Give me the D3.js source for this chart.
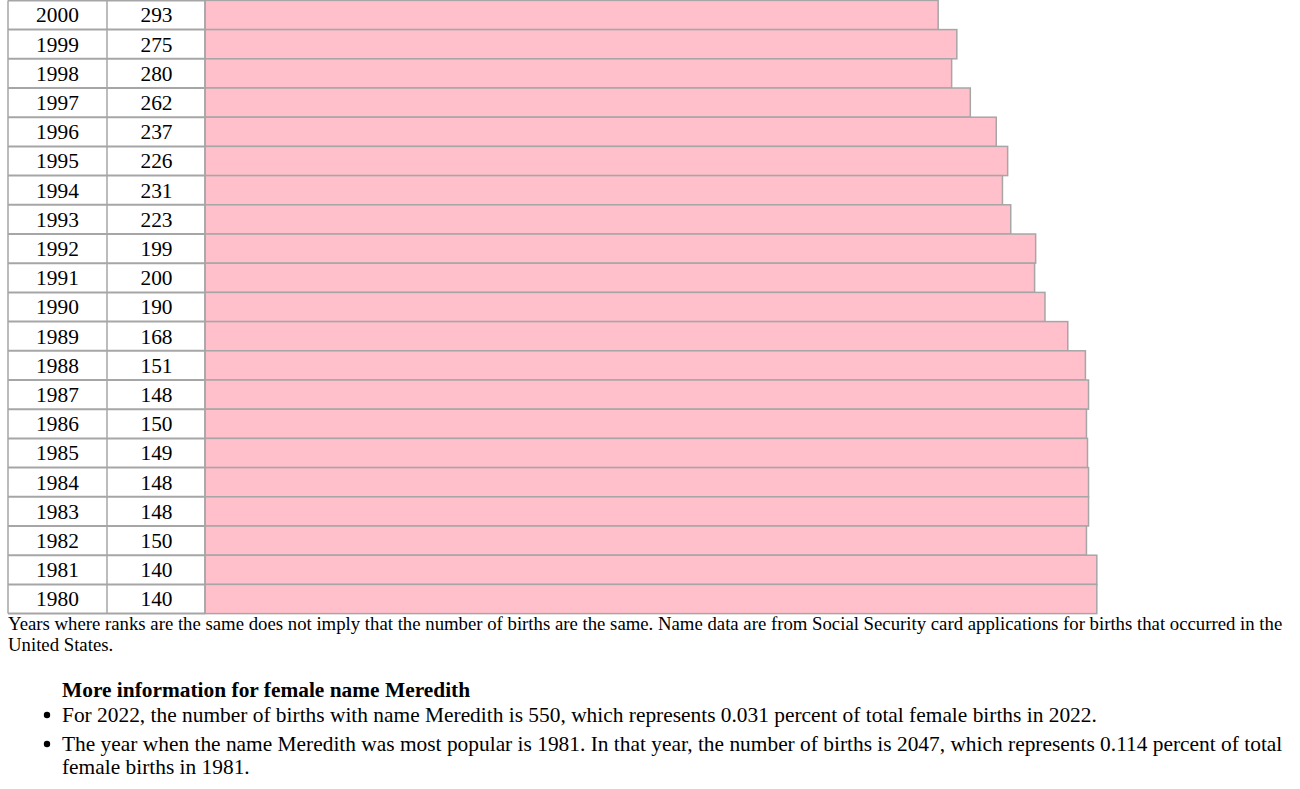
<!DOCTYPE html>
<html>
<head>
<meta charset="utf-8">
<script src="https://cdn.jsdelivr.net/npm/d3@7"></script>
<style>
  html, body { margin: 0; padding: 0; background: #fff; }
  svg { display: block; }
  text { font-family: "Liberation Serif", "Times New Roman", serif; fill: #000; }
</style>
</head>
<body>
<svg id="chart" width="1300" height="789"></svg>
<script>
const years = [2000,1999,1998,1997,1996,1995,1994,1993,1992,1991,1990,1989,1988,1987,1986,1985,1984,1983,1982,1981,1980];
const ranks = [293,275,280,262,237,226,231,223,199,200,190,168,151,148,150,149,148,148,150,140,140];
const footnoteLines = [
  "Years where ranks are the same does not imply that the number of births are the same. Name data are from Social Security card applications for births that occurred in the",
  "United States."
];
const infoHeading = "More information for female name Meredith";
const infoBullets = [
  ["For 2022, the number of births with name Meredith is 550, which represents 0.031 percent of total female births in 2022."],
  ["The year when the name Meredith was most popular is 1981. In that year, the number of births is 2047, which represents 0.114 percent of total",
   "female births in 1981."]
];

const svg = d3.select("#chart");
const tableLeft = 8, col1 = 107, col2 = 205;
const rowTop = 0.4, rowH = 29.2;
const lineColor = "#a6a6a6";

const y = d3.scaleBand()
  .domain(years.map(String))
  .range([rowTop, rowTop + rowH * years.length])
  .paddingInner(0).paddingOuter(0);

// bar length: lower rank -> longer bar
const w = d3.scaleLinear().domain([1000, 0]).range([0, 1037]);

const data = years.map((yr, i) => ({ year: yr, rank: ranks[i] }));

// bars
svg.append("g").selectAll("rect")
  .data(data).join("rect")
  .attr("x", col2)
  .attr("y", d => y(String(d.year)))
  .attr("width", d => w(d.rank))
  .attr("height", y.bandwidth())
  .attr("fill", "#ffc0cb")
  .attr("stroke", lineColor)
  .attr("stroke-width", 1.5);

// table grid
const grid = svg.append("g").attr("stroke", lineColor).attr("fill", "none");
const hLines = years.map(yr => y(String(yr))).concat([y.range()[1]]);
grid.selectAll("line.h").data(hLines).join("line")
  .attr("class", "h")
  .attr("x1", tableLeft).attr("x2", col2)
  .attr("y1", d => d).attr("y2", d => d)
  .attr("stroke-width", 2);
grid.selectAll("line.v").data([tableLeft, col1, col2]).join("line")
  .attr("class", "v")
  .attr("x1", d => d).attr("x2", d => d)
  .attr("y1", y.range()[0]).attr("y2", y.range()[1])
  .attr("stroke-width", 1.5);

// cell text
const cells = svg.append("g").attr("font-size", 21.4).attr("text-anchor", "middle");
cells.selectAll("text.yr").data(data).join("text")
  .attr("class", "yr")
  .attr("x", (tableLeft + col1) / 2)
  .attr("y", d => y(String(d.year)) + y.bandwidth() / 2 + 7.3)
  .text(d => d.year);
cells.selectAll("text.rk").data(data).join("text")
  .attr("class", "rk")
  .attr("x", (col1 + col2) / 2 + 0.5)
  .attr("y", d => y(String(d.year)) + y.bandwidth() / 2 + 7.3)
  .text(d => d.rank);

// footnote
svg.append("g").attr("font-size", 18.75)
  .selectAll("text").data(footnoteLines).join("text")
  .attr("x", 8)
  .attr("y", (d, i) => 629.5 + i * 21)
  .text(d => d);

// info heading
svg.append("text")
  .attr("x", 62).attr("y", 696.5)
  .attr("font-size", 21.4).attr("font-weight", "bold")
  .text(infoHeading);

// bullets
let by = 721.5;
const bl = svg.append("g").attr("font-size", 21.4);
infoBullets.forEach(lines => {
  bl.append("circle").attr("cx", 47).attr("cy", by - 6.5).attr("r", 3.2).attr("fill", "#000");
  lines.forEach((ln, j) => {
    bl.append("text").attr("x", 62).attr("y", by).text(ln);
    by += 23.5;
  });
  by += 5.5;
});
</script>
</body>
</html>
